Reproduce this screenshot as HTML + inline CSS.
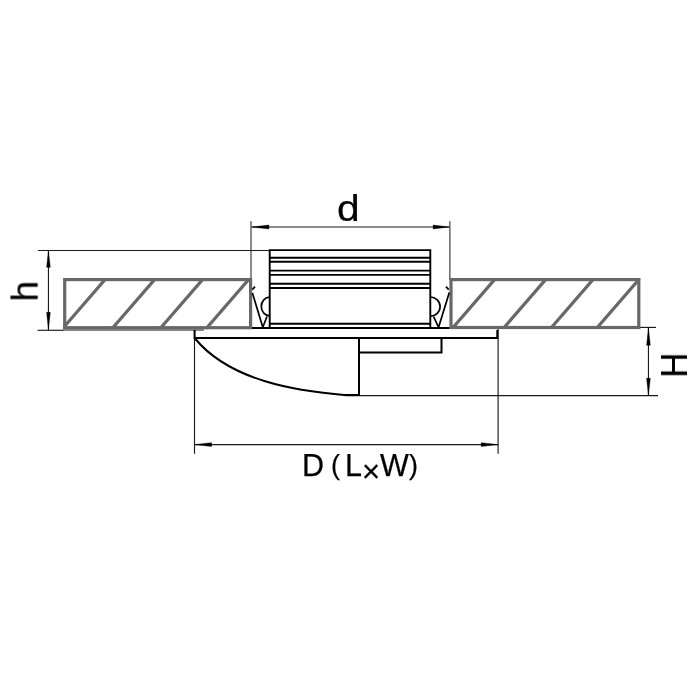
<!DOCTYPE html>
<html><head><meta charset="utf-8">
<style>
html,body{margin:0;padding:0;background:#fff;width:700px;height:700px;overflow:hidden}
svg{display:block}
text{font-family:"Liberation Sans",sans-serif;fill:#000;stroke:#000;stroke-width:0.25}
</style></head>
<body>
<svg width="700" height="700" viewBox="0 0 700 700">
<rect width="700" height="700" fill="#fff"/>
<!-- dimension lines -->
<g stroke="#1a1a1a" stroke-width="1.15" fill="none">
  <!-- h -->
  <line x1="37.9" y1="250.45" x2="270" y2="250.45"/>
  <line x1="37.6" y1="330.3" x2="63.5" y2="330.3"/>
  <line x1="63" y1="329.9" x2="203.8" y2="329.9" stroke="#626262" stroke-width="1.5"/>
  <line x1="48.45" y1="251" x2="48.45" y2="330"/>
  <!-- d -->
  <line x1="251.0" y1="221.2" x2="251.0" y2="280" stroke-width="1"/>
  <line x1="449.9" y1="221.2" x2="449.9" y2="280" stroke-width="1"/>
  <line x1="252" y1="227.0" x2="449" y2="227.0"/>
  <!-- H -->
  <line x1="636" y1="327.4" x2="656" y2="327.4"/>
  <line x1="359" y1="395.6" x2="658" y2="395.6"/>
  <line x1="648.45" y1="328" x2="648.45" y2="395.5"/>
  <!-- D -->
  <line x1="194.5" y1="330" x2="194.5" y2="453.8"/>
  <line x1="498.1" y1="329" x2="498.1" y2="453.8"/>
  <line x1="195" y1="444.6" x2="498" y2="444.6"/>
</g>
<!-- arrows -->
<g fill="#000" stroke="#000" stroke-width="0.4" stroke-linejoin="round">
  <path d="M48.45,250.8 L46.6,267.3 L50.3,267.3 Z"/>
  <path d="M48.45,329.6 L46.6,312.3 L50.3,312.3 Z"/>
  <path d="M251.4,227 L268.9,225.1 L268.9,228.9 Z"/>
  <path d="M449.5,227 L433.2,225.1 L433.2,228.9 Z"/>
  <path d="M648.45,327.8 L646.6,345.3 L650.3,345.3 Z"/>
  <path d="M648.45,395.6 L646.6,378.3 L650.3,378.3 Z"/>
  <path d="M194.9,444.6 L211.5,442.7 L211.5,446.5 Z"/>
  <path d="M497.7,444.6 L481.2,442.7 L481.2,446.5 Z"/>
</g>
<!-- gray hatched panels -->
<defs>
  <clipPath id="cl"><rect x="63.2" y="278.1" width="188.9" height="51.1"/></clipPath>
  <clipPath id="cr"><rect x="449.5" y="278.1" width="190.8" height="50.9"/></clipPath>
</defs>
<g stroke="#686868" stroke-width="3.2" fill="none">
  <rect x="64.7" y="279.6" width="185.9" height="48.1"/>
  <rect x="451" y="279.6" width="187.8" height="47.9"/>
</g>
<g stroke="#686868" stroke-width="3.2" fill="none" clip-path="url(#cl)">
  <line x1="61.96" y1="329.3" x2="106.25" y2="278.1"/>
  <line x1="111.51" y1="329.3" x2="155.80" y2="278.1"/>
  <line x1="159.51" y1="329.3" x2="203.80" y2="278.1"/>
  <line x1="205.56" y1="329.3" x2="249.85" y2="278.1"/>
</g>
<g stroke="#686868" stroke-width="3.2" fill="none" clip-path="url(#cr)">
  <line x1="451.51" y1="329.3" x2="495.80" y2="278.1"/>
  <line x1="502.56" y1="329.3" x2="546.85" y2="278.1"/>
  <line x1="549.91" y1="329.3" x2="594.20" y2="278.1"/>
  <line x1="595.76" y1="329.3" x2="640.05" y2="278.1"/>
</g>
<!-- box -->
<g stroke="#000" stroke-width="1.9" fill="none">
  <path d="M269.7,328 L269.7,250.15 L430.3,250.15 L430.3,328"/>
  <line x1="269.7" y1="257.7" x2="430.3" y2="257.7"/>
  <line x1="269.7" y1="261.8" x2="430.3" y2="261.8"/>
  <line x1="269.7" y1="270.6" x2="430.3" y2="270.6"/>
  <line x1="269.7" y1="274.9" x2="430.3" y2="274.9"/>
  <line x1="269.7" y1="283.7" x2="430.3" y2="283.7"/>
  <line x1="269.7" y1="288.0" x2="430.3" y2="288.0"/>
  <line x1="269.7" y1="323.7" x2="430.3" y2="323.7"/>
  <line x1="252" y1="328" x2="449.5" y2="328"/>
</g>
<!-- clips -->
<g stroke="#000" stroke-width="1.7" fill="none" stroke-linejoin="round">
  <path d="M255,286.6 L252.3,289.6"/>
  <path d="M252.4,293 L262.8,327.3 L267,316.5"/>
  <path d="M269.7,297.2 A8.4,9.3 0 0 0 269.7,315.8"/>
  <path d="M446,286.6 L448.7,289.6"/>
  <path d="M449.3,292.4 L438.6,327.3 L433.5,316.5"/>
  <path d="M430.3,297 A9.8,9.6 0 0 1 430.3,316.2"/>
</g>
<!-- plate and lower body -->
<g stroke="#000" stroke-width="2" fill="none">
  <path d="M194.6,330 L194.6,338 L497.3,338 L497.3,330"/>
  <path d="M359,338 L359,395 L344,395"/>
  <path d="M359,352.6 L441.5,352.6 L441.5,338"/>
  <path d="M195,338.5 C230.3,381.1 296.2,391.1 346.5,395.2 L359,395.2"/>
</g>
<!-- labels -->
<g opacity="0.999">
<text transform="translate(337,220.7) scale(1.1,1)" font-size="37">d</text>
<text transform="translate(37.5,301.5) rotate(-90)" font-size="37">h</text>
<text transform="translate(687,377.8) rotate(-90) scale(0.94,1)" font-size="37">H</text>
<text x="302" y="476" font-size="30.5">D</text>
<text x="331" y="473.5" font-size="27">(</text>
<text x="345" y="476" font-size="30.5">L</text>
<text x="362" y="481.5" font-size="31">×</text>
<text x="380" y="476" font-size="30.5">W</text>
<text x="409" y="473.5" font-size="27">)</text>
</g>
</svg>
</body></html>
